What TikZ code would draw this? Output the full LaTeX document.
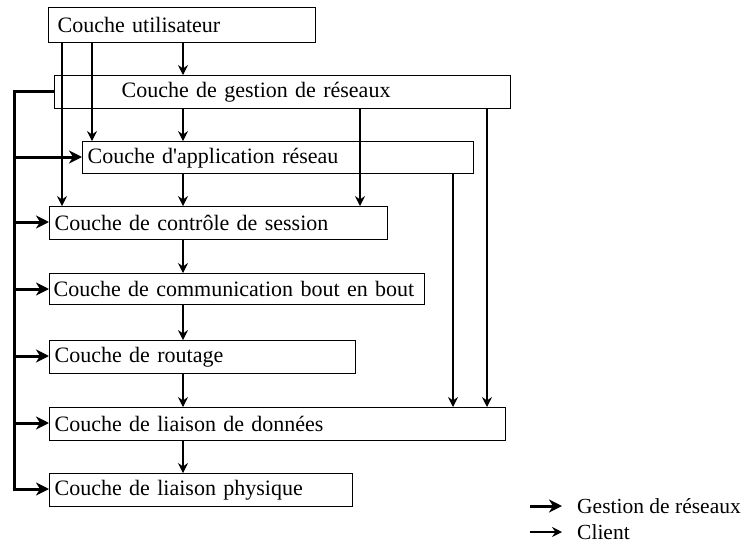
\documentclass[tikz,border=0pt]{standalone}
\usepackage{fontspec}
\setmainfont{Liberation Serif}
\usetikzlibrary{arrows.meta}
\begin{document}
\begin{tikzpicture}[x=1pt,y=-1pt,
  layer/.style={draw,line width=1.4pt,anchor=north west,inner xsep=7pt,inner ysep=0pt,
    align=left,font=\fontsize{22}{25}\selectfont},
  client/.style={line width=1.1pt,-{Stealth[length=10pt,width=10pt,inset=3.5pt]}},
  mgmt/.style={line width=3pt,-{Stealth[length=13pt,width=13pt,inset=4pt]}}]
\useasboundingbox (0,0) rectangle (753,552);

% protocol layers
\node[layer,minimum width=267pt,minimum height=35pt,text width=249pt,inner xsep=9pt] (u) at (48,7) {\mbox{Couche utilisateur}};
\node[layer,minimum width=456pt,minimum height=33pt,text width=442pt] (g) at (54,75) {\mbox{\hspace*{60pt}Couche de gestion de réseaux}};
\node[layer,minimum width=391pt,minimum height=32pt,text width=381pt,inner xsep=5pt] (a) at (82,141) {\mbox{Couche d\textquotesingle application réseau}};
\node[layer,minimum width=338pt,minimum height=33pt,text width=328pt,inner xsep=5pt] (c) at (49,206) {\mbox{Couche de contrôle de session}};
\node[layer,minimum width=375pt,minimum height=31pt,text width=367pt,inner xsep=4pt] (m) at (49,273) {\mbox{Couche de communication bout en bout}};
\node[layer,minimum width=306pt,minimum height=33pt,text width=296pt,inner xsep=5pt] (r) at (49,340) {\mbox{Couche de routage}};
\node[layer,minimum width=456pt,minimum height=33pt,text width=446pt,inner xsep=5pt] (d) at (49,407) {\mbox{Couche de liaison de données}};
\node[layer,minimum width=303pt,minimum height=33pt,text width=293pt,inner xsep=5pt] (p) at (49,473) {\mbox{Couche de liaison physique}};

% client flows (thin)
\draw[client] (u.south -| 183,0) -- (g.north -| 183,0);
\draw[client] (u.south -| 92,0) -- (a.north -| 92,0);
\draw[client] (u.south -| 62,0) -- (c.north -| 62,0);
\draw[client] (g.south -| 183,0) -- (a.north -| 183,0);
\draw[client] (g.south -| 360,0) -- (c.north -| 360,0);
\draw[client] (g.south -| 487,0) -- (d.north -| 487,0);
\draw[client] (a.south -| 183,0) -- (c.north -| 183,0);
\draw[client] (a.south -| 453,0) -- (d.north -| 453,0);
\draw[client] (c.south -| 183,0) -- (m.north -| 183,0);
\draw[client] (m.south -| 183,0) -- (r.north -| 183,0);
\draw[client] (r.south -| 183,0) -- (d.north -| 183,0);
\draw[client] (d.south -| 183,0) -- (p.north -| 183,0);

% network management flows (thick)
\coordinate (bus) at (14,91);
\draw[line width=3pt] (g.west |- 0,91) -- (bus) -- (14,489);
\draw[mgmt] (14,157) -- (a.west |- 0,157);
\draw[mgmt] (14,222) -- (c.west |- 0,222);
\draw[mgmt] (14,289) -- (m.west |- 0,289);
\draw[mgmt] (14,356) -- (r.west |- 0,356);
\draw[mgmt] (14,423) -- (d.west |- 0,423);
\draw[mgmt] (12.5,489) -- (p.west |- 0,489);

% legend
\coordinate (l1a) at (530,506);
\coordinate (l1b) at (562,506);
\coordinate (l2a) at (530,532);
\coordinate (l2b) at (562,532);
\draw[mgmt] (l1a) -- (l1b);
\draw[client] (l2a) -- (l2b);
\node[anchor=west,font=\fontsize{21.5}{25}\selectfont,inner sep=0pt] (lg) at (577,506) {Gestion de réseaux};
\node[anchor=west,font=\fontsize{21.5}{25}\selectfont,inner sep=0pt] (lc) at (577,532) {Client};
\end{tikzpicture}
\end{document}
